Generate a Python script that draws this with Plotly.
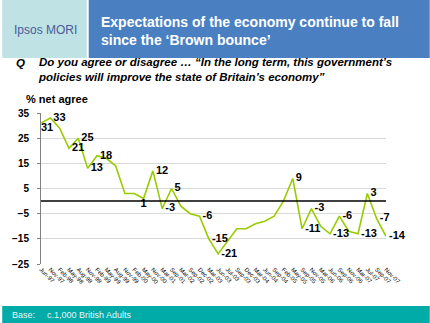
import plotly.graph_objects as go

months = ["Jun-97", "Nov-97", "Feb-98", "May-98", "Aug-98", "Nov-98", "Feb-99",
          "May-99", "Aug-99", "Nov-99", "Feb-00", "May-00", "Nov-00", "Mar-01", "Sep-01",
          "Mar-02", "Sep-02", "Dec-02", "Mar-03", "Jun-03", "Jul-03", "Sep-03", "Dec-03",
          "Mar-04", "Jun-04", "Sep-04", "Feb-05", "May-05", "Sep-05", "Nov-05", "Mar-06",
          "Jun-06", "Sep-06", "Nov-06", "Mar-07", "Jul-07", "Sep-07", "Nov-07"]
net_agree = [31, 33, 29, 21, 25, 13, 18, 17, 14, 3, 3, 1, 12, -3, 5, -2, -5, -6, -15,
             -21, -16, -11, -11, -9, -8, -6, 0, 9, -11, -3, -10, -13, -6, -12, -13, 3, -7, -14]
labelled = [0, 1, 3, 4, 5, 6, 11, 12, 13, 14, 17, 18, 19, 27, 28, 29, 31, 32, 34, 35, 36, 37]
below_centre = [11]
below_right = [0]
y_ticks = [35, 25, 15, 5, -5, -15, -25]

W, H = 430, 323
L, R, T, B = 39, 386, 113, 264

def px(x):
    return (x - L) / (R - L)

def py(y):
    return (B - y) / (B - T)

FONT = "Arial, Liberation Sans, sans-serif"

texts = []
positions = []
for i, v in enumerate(net_agree):
    if i not in labelled:
        texts.append("")
        positions.append("middle right")
    elif i in below_centre:
        texts.append(str(v))
        positions.append("bottom center")
    elif i in below_right:
        texts.append(str(v))
        positions.append("bottom right")
    else:
        texts.append(" " + str(v))
        positions.append("middle right")

fig = go.Figure()
fig.add_trace(go.Scatter(
    x=list(range(len(net_agree))), y=net_agree, mode="lines+text",
    line=dict(color="#99cc00", width=1.6),
    text=texts, textposition=positions,
    textfont=dict(family=FONT, size=11, color="#000000", weight="bold"),
    cliponaxis=False, hoverinfo="skip", showlegend=False,
))

fig.update_xaxes(
    range=[0, len(net_agree) - 1],
    tickmode="array", tickvals=list(range(len(months))), ticktext=months,
    tickangle=45, tickfont=dict(family=FONT, size=6, color="#000000"),
    showgrid=False, zeroline=False, showline=False, ticks="",
)
fig.update_yaxes(
    range=[-25, 35], tickmode="array", tickvals=y_ticks,
    tickfont=dict(family=FONT, size=10, color="#000000", weight="bold"),
    showgrid=True, gridcolor="#d9d9d9", gridwidth=1,
    zeroline=False, showline=True, linecolor="#808080", linewidth=1,
    ticks="outside", ticklen=3, tickcolor="#808080", ticklabelstandoff=6,
)

shapes = [
    dict(type="rect", xref="paper", yref="paper", x0=px(0), x1=px(85), y0=py(58), y1=py(0),
         fillcolor="#bfe2e4", line=dict(width=0), layer="below"),
    dict(type="rect", xref="paper", yref="paper", x0=px(87), x1=px(W), y0=py(58), y1=py(0),
         fillcolor="#4a80c2", line=dict(width=0), layer="below"),
    dict(type="rect", xref="paper", yref="paper", x0=px(0), x1=px(W), y0=py(H), y1=py(306),
         fillcolor="#00aba8", line=dict(width=0), layer="below"),
    dict(type="line", xref="paper", yref="y", x0=0, x1=1, y0=0, y1=0,
         line=dict(color="#000000", width=1.5)),
]

annotations = [
    dict(text="Ipsos MORI", x=px(10), y=py(30), xanchor="left", yanchor="middle",
         font=dict(family=FONT, size=12, color="#4b5b9b")),
    dict(text="<b>Expectations of the economy continue to fall<br>since the ‘Brown bounce’</b>",
         x=px(97), y=py(31), xanchor="left", yanchor="middle", align="left",
         font=dict(family=FONT, size=14, color="#ffffff")),
    dict(text="<b><i>Q</i></b>", x=px(12), y=py(63), xanchor="left", yanchor="middle",
         font=dict(family=FONT, size=11.5, color="#000000")),
    dict(text="<b><i>Do you agree or disagree … “In the long term, this government’s<br>policies will improve the state of Britain’s economy”</i></b>",
         x=px(34), y=py(69), xanchor="left", yanchor="middle", align="left",
         font=dict(family=FONT, size=11.5, color="#000000")),
    dict(text="<b>% net agree</b>", x=px(22), y=py(99), xanchor="left", yanchor="middle",
         font=dict(family=FONT, size=11, color="#000000")),
    dict(text="Base:", x=px(8), y=py(315), xanchor="left", yanchor="middle",
         font=dict(family=FONT, size=9, color="#e8f6f6")),
    dict(text="c.1,000 British Adults", x=px(43), y=py(315), xanchor="left", yanchor="middle",
         font=dict(family=FONT, size=9, color="#e8f6f6")),
]
for a in annotations:
    a.update(xref="paper", yref="paper", showarrow=False)

fig.update_layout(
    width=W, height=H, autosize=False,
    margin=dict(l=L, r=W - R, t=T, b=H - B, pad=0),
    paper_bgcolor="#ffffff", plot_bgcolor="#ffffff",
    shapes=shapes, annotations=annotations, showlegend=False,
)

fig.write_html("out.html", config={"displayModeBar": False})
